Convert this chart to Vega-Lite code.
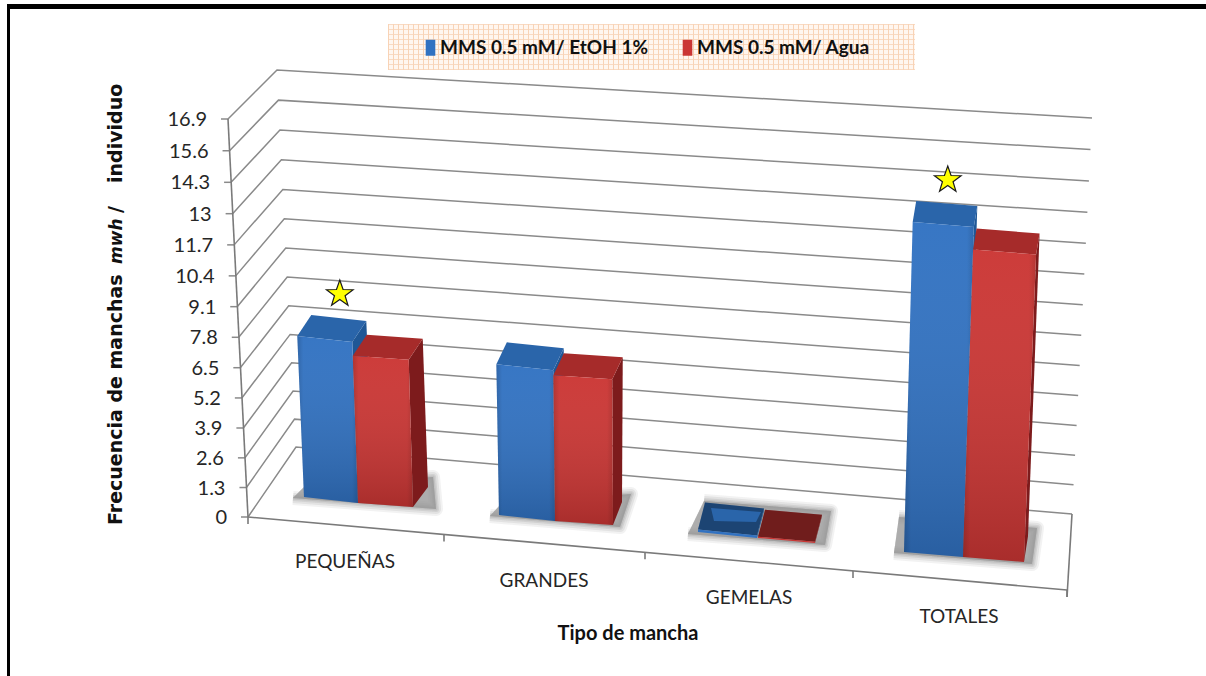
{
"$schema":"https://vega.github.io/schema/vega-lite/v6.json",
"width":1206,"height":676,"padding":0,"autosize":{"type":"none"},"background":"white",
"config":{"view":{"stroke":null}},
"datasets":{
"barras":[
{"tipo":"PEQUEÑAS","serie":"MMS 0.5 mM/ EtOH 1%","valor":7.0},
{"tipo":"PEQUEÑAS","serie":"MMS 0.5 mM/ Agua","valor":6.4},
{"tipo":"GRANDES","serie":"MMS 0.5 mM/ EtOH 1%","valor":6.1},
{"tipo":"GRANDES","serie":"MMS 0.5 mM/ Agua","valor":5.9},
{"tipo":"GEMELAS","serie":"MMS 0.5 mM/ EtOH 1%","valor":0.1},
{"tipo":"GEMELAS","serie":"MMS 0.5 mM/ Agua","valor":0.05},
{"tipo":"TOTALES","serie":"MMS 0.5 mM/ EtOH 1%","valor":13.2},
{"tipo":"TOTALES","serie":"MMS 0.5 mM/ Agua","valor":12.3}
],
"niveles":[{"nivel":0},{"nivel":1.3},{"nivel":2.6},{"nivel":3.9},{"nivel":5.2},{"nivel":6.5},{"nivel":7.8},{"nivel":9.1},{"nivel":10.4},{"nivel":11.7},{"nivel":13},{"nivel":14.3},{"nivel":15.6},{"nivel":16.9}],
"categorias":[{"tipo":"PEQUEÑAS"},{"tipo":"GRANDES"},{"tipo":"GEMELAS"},{"tipo":"TOTALES"}],
"cortes":[{"corte":0},{"corte":1},{"corte":2},{"corte":3},{"corte":4}],
"marco":[{"borde":"izquierdo"},{"borde":"frontal"},{"borde":"derecho"}],
"titulos":[{"texto":"Frecuencia de manchas","estilo":"normal"},{"texto":"mwh","estilo":"italic"},{"texto":"/","estilo":"normal"},{"texto":"individuo","estilo":"normal"}]
},
"data":{"name":"niveles"},
"encoding":{
"x":{"field":"px","type":"quantitative","scale":{"domain":[0,1206],"nice":false,"zero":false},"axis":null},
"y":{"field":"py","type":"quantitative","scale":{"domain":[0,676],"reverse":true,"nice":false,"zero":false},"axis":null}
},
"layer":[
{"data":{"values":[{"lado":"caja"}]},
"transform":[{"calculate":"651.5","as":"px"},{"calculate":"47","as":"py"}],
"layer":[
{"mark":{"type":"point","shape":"M-263.5 -23 H263.5 V23 H-263.5 Z","size":4,"filled":true,"fill":"#fff6ef","opacity":1}},
{"transform":[{"calculate":"388","as":"px"},{"calculate":"915","as":"px2"}],
"mark":{"type":"rule","stroke":"#f8d3b6","strokeWidth":46,"strokeDash":[1,4]},"encoding":{"x2":{"field":"px2"}}},
{"transform":[{"calculate":"24","as":"py"},{"calculate":"70","as":"py2"}],
"mark":{"type":"rule","stroke":"#f8d3b6","strokeWidth":527,"strokeDash":[1,4],"opacity":0.8},"encoding":{"y2":{"field":"py2"}}}
]},
{"transform":[
{"calculate":"datum.nivel/16.9","as":"t"},
{"calculate":"16*datum.t*(1-datum.t)","as":"curva"},
{"fold":["c0","c1","c2"],"as":["esquina","vacio"]},
{"calculate":"{c0:248-20*datum.t,c1:296-19*datum.t,c2:1072+20*datum.t}[datum.esquina]","as":"px"},
{"calculate":"{c0:517-398*datum.t,c1:447-377*datum.t,c2:514-396*datum.t}[datum.esquina]+datum.curva","as":"py"}
],
"mark":{"type":"line","stroke":"#8a8a8a","strokeWidth":1.5},
"encoding":{"detail":{"field":"nivel"},"order":{"field":"esquina"}}},
{"transform":[
{"calculate":"datum.nivel/16.9","as":"t"},
{"calculate":"248-20*datum.t","as":"px"},
{"calculate":"datum.px-7","as":"px2"},
{"calculate":"517-398*datum.t+16*datum.t*(1-datum.t)","as":"py"}
],
"layer":[
{"mark":{"type":"rule","stroke":"#8a8a8a","strokeWidth":1.5},"encoding":{"x2":{"field":"px2"}}},
{"transform":[{"calculate":"datum.px-21","as":"px"},{"calculate":"datum.py+1","as":"py"}],
"mark":{"type":"text","align":"right","baseline":"middle","font":"Lato","fontSize":20,"fill":"#262626"},
"encoding":{"text":{"field":"nivel","type":"nominal"}}}
]},
{"data":{"name":"marco"},
"transform":[
{"calculate":"{izquierdo:248,frontal:248,derecho:1072}[datum.borde]","as":"px"},
{"calculate":"{izquierdo:517,frontal:517,derecho:514}[datum.borde]","as":"py"},
{"calculate":"{izquierdo:228,frontal:1067,derecho:1067}[datum.borde]","as":"px2"},
{"calculate":"{izquierdo:119,frontal:590,derecho:597}[datum.borde]","as":"py2"}
],
"mark":{"type":"rule","stroke":"#7a7a7a","strokeWidth":1.6},
"encoding":{"x2":{"field":"px2"},"y2":{"field":"py2"}}},
{"data":{"name":"cortes"},
"transform":[
{"calculate":"[248,444,645,853,1067][datum.corte]","as":"px"},
{"calculate":"517+(datum.px-248)*0.0891","as":"py"},
{"calculate":"datum.py+7","as":"py2"}
],
"mark":{"type":"rule","stroke":"#7a7a7a","strokeWidth":1.6},
"encoding":{"y2":{"field":"py2"}}},
{"data":{"name":"categorias"},
"transform":[
{"fold":["c0","c1","c2","c3"],"as":["esquina","vacio"]},
{"calculate":"{PEQUEÑAS:{c0:304,c1:433,c2:436,c3:293},GRANDES:{c0:501,c1:631,c2:620,c3:490},GEMELAS:{c0:704,c1:831,c2:825,c3:688},TOTALES:{c0:899,c1:1037,c2:1032,c3:894}}[datum.tipo][datum.esquina]","as":"px"},
{"calculate":"{PEQUEÑAS:{c0:487,c1:477,c2:509,c3:498},GRANDES:{c0:504,c1:494,c2:527,c3:516},GEMELAS:{c0:501,c1:511,c2:545,c3:534},TOTALES:{c0:517,c1:528,c2:564,c3:553}}[datum.tipo][datum.esquina]","as":"py"}
],
"encoding":{"detail":{"field":"tipo"},"order":{"field":"esquina"}},
"layer":[
{"mark":{"type":"line","fill":"#969696","stroke":"#969696","strokeJoin":"round","strokeWidth":14,"fillOpacity":0.3,"strokeOpacity":0.12}},
{"mark":{"type":"line","fill":"#969696","stroke":"#969696","strokeJoin":"round","strokeWidth":10,"fillOpacity":0.3,"strokeOpacity":0.17}},
{"mark":{"type":"line","fill":"#969696","stroke":"#969696","strokeJoin":"round","strokeWidth":6,"fillOpacity":0.3,"strokeOpacity":0.22}},
{"mark":{"type":"line","fill":"#969696","stroke":"#969696","strokeJoin":"round","strokeWidth":3,"fillOpacity":0.3,"strokeOpacity":0.28}}
]},
{"data":{"name":"barras"},
"transform":[
{"calculate":"datum.tipo+(datum.serie=='MMS 0.5 mM/ Agua'?'_A':'_E')","as":"clave"},
{"calculate":"{PEQUEÑAS_E:304,PEQUEÑAS_A:358,GRANDES_E:499,GRANDES_A:555,GEMELAS_E:698,GEMELAS_A:758,TOTALES_E:904,TOTALES_A:963}[datum.clave]","as":"xi"},
{"calculate":"{PEQUEÑAS_E:358,PEQUEÑAS_A:413,GRANDES_E:555,GRANDES_A:613,GEMELAS_E:757,GEMELAS_A:815,TOTALES_E:963,TOTALES_A:1024}[datum.clave]","as":"xd"},
{"calculate":"{PEQUEÑAS_E:497,PEQUEÑAS_A:503,GRANDES_E:515,GRANDES_A:521,GEMELAS_E:532,GEMELAS_A:538,TOTALES_E:552,TOTALES_A:557}[datum.clave]","as":"yi"},
{"calculate":"{PEQUEÑAS_E:503,PEQUEÑAS_A:507,GRANDES_E:521,GRANDES_A:525,GEMELAS_E:538,GEMELAS_A:543,TOTALES_E:557,TOTALES_A:562}[datum.clave]","as":"yd"},
{"calculate":"{PEQUEÑAS:23,GRANDES:24.7,GEMELAS:25,TOTALES:25}[datum.tipo]","as":"escala"},
{"calculate":"{PEQUEÑAS:14,GRANDES:10.5,GEMELAS:7,TOTALES:3.5}[datum.tipo]","as":"dx"},
{"calculate":"{PEQUEÑAS:-21,GRANDES:-22,GEMELAS:-27,TOTALES:-21}[datum.tipo]","as":"dy"},
{"calculate":"{PEQUEÑAS:15,GRANDES:9,GEMELAS:7,TOTALES:4}[datum.tipo]","as":"dxb"},
{"calculate":"{PEQUEÑAS:-20,GRANDES:-23,GEMELAS:-27,TOTALES:-26}[datum.tipo]","as":"dyb"},
{"calculate":"datum.xi+datum.valor*(datum.xi-660)*0.0027","as":"xsi"},
{"calculate":"datum.xd+datum.valor*(datum.xd-660)*0.0027","as":"xsd"},
{"calculate":"datum.yi-datum.valor*datum.escala","as":"ysi"},
{"calculate":"datum.yd-datum.valor*datum.escala","as":"ysd"},
{"fold":["c0","c1","c2","c3"],"as":["esquina","vacio"]}
],
"encoding":{"detail":{"field":"clave"},"order":{"field":"esquina"}},
"layer":[
{"transform":[
{"calculate":"{c0:datum.xsd,c1:datum.xsd+datum.dx,c2:datum.xd+datum.dxb,c3:datum.xd}[datum.esquina]","as":"px"},
{"calculate":"{c0:datum.ysd,c1:datum.ysd+datum.dy,c2:datum.yd+datum.dyb,c3:datum.yd}[datum.esquina]","as":"py"}],
"mark":{"type":"line","filled":true},
"encoding":{"color":{"field":"serie","type":"nominal","legend":null,"scale":{"domain":["MMS 0.5 mM/ EtOH 1%","MMS 0.5 mM/ Agua"],"range":["#1f5796","#7d1b1c"]}}}},
{"transform":[
{"calculate":"{c0:datum.xsi,c1:datum.xsi+datum.dx,c2:datum.xsd+datum.dx,c3:datum.xsd}[datum.esquina]","as":"px"},
{"calculate":"{c0:datum.ysi,c1:datum.ysi+datum.dy,c2:datum.ysd+datum.dy,c3:datum.ysd}[datum.esquina]","as":"py"}],
"layer":[
{"mark":{"type":"line","filled":true},
"encoding":{"color":{"field":"serie","type":"nominal","legend":null,"scale":{"domain":["MMS 0.5 mM/ EtOH 1%","MMS 0.5 mM/ Agua"],"range":["#2a65aa","#a62b2a"]}}}},
{"transform":[{"filter":"datum.tipo=='GEMELAS'"}],"mark":{"type":"line","fill":"black","fillOpacity":0.32,"stroke":"transparent"}}
]},
{"transform":[
{"calculate":"{c0:datum.xsi,c1:datum.xsd,c2:datum.xd,c3:datum.xi}[datum.esquina]","as":"px"},
{"calculate":"{c0:datum.ysi,c1:datum.ysd,c2:datum.yd,c3:datum.yi}[datum.esquina]","as":"py"}],
"layer":[
{"mark":{"type":"line","filled":true},
"encoding":{"color":{"field":"serie","type":"nominal",
"scale":{"domain":["MMS 0.5 mM/ EtOH 1%","MMS 0.5 mM/ Agua"],"range":["#3172c2","#cb3634"]},
"legend":{"title":null,"orient":"none","legendX":421,"legendY":38,"direction":"horizontal","columns":2,"columnPadding":29,"symbolType":"M-0.6 -1 H0.6 V1 H-0.6 Z","symbolSize":256,"symbolOpacity":1,"labelFont":"Lato","labelFontWeight":"bold","labelFontSize":19,"labelColor":"#111111","labelOffset":0,"labelLimit":260}}}},
{"transform":[{"filter":"datum.tipo!='GEMELAS'"}],
"mark":{"type":"line","stroke":"transparent","fill":{"gradient":"linear","x1":0,"y1":0,"x2":0,"y2":1,"stops":[{"offset":0,"color":"rgba(255,255,255,0.03)"},{"offset":1,"color":"rgba(0,0,0,0.17)"}]}}},
{"transform":[{"filter":"datum.tipo!='GEMELAS'"}],
"mark":{"type":"line","stroke":"transparent","fill":{"gradient":"linear","x1":0,"y1":0,"x2":1,"y2":0,"stops":[{"offset":0,"color":"rgba(0,0,0,0.14)"},{"offset":0.1,"color":"rgba(0,0,0,0)"},{"offset":0.9,"color":"rgba(0,0,0,0)"},{"offset":1,"color":"rgba(0,0,0,0.12)"}]}}}
]},
{"transform":[
{"filter":"datum.clave=='GEMELAS_E'"},
{"calculate":"{c0:711,c1:761,c2:756,c3:714}[datum.esquina]","as":"px"},
{"calculate":"{c0:508,c1:512,c2:522,c3:521}[datum.esquina]","as":"py"}],
"mark":{"type":"line","fill":"#2a65aa","stroke":"transparent"}},
{"transform":[
{"filter":"datum.esquina=='c0' && (datum.clave=='PEQUEÑAS_E' || datum.clave=='TOTALES_E')"},
{"calculate":"(datum.xsi+datum.xsd)/2+datum.dx+1","as":"px"},
{"calculate":"datum.ysi-42","as":"py"}],
"mark":{"type":"point","shape":"M0 -14 L3.3 -4.5 L13.3 -4.3 L5.3 1.7 L8.2 11.3 L0 5.6 L-8.2 11.3 L-5.3 1.7 L-13.3 -4.3 L-3.3 -4.5 Z","size":4,"filled":true,"fill":"#ffff00","stroke":"#1a1a1a","strokeWidth":1.2,"opacity":1}}
],
"resolve":{"scale":{"color":"independent"}}},
{"data":{"name":"categorias"},
"transform":[
{"calculate":"{PEQUEÑAS:345,GRANDES:544,GEMELAS:749,TOTALES:959}[datum.tipo]","as":"px"},
{"calculate":"{PEQUEÑAS:562,GRANDES:581,GEMELAS:598,TOTALES:617}[datum.tipo]","as":"py"}
],
"mark":{"type":"text","align":"center","baseline":"middle","font":"Lato","fontSize":19,"fill":"#262626"},
"encoding":{"text":{"field":"tipo","type":"nominal"}}},
{"data":{"values":[{"texto":"Tipo de mancha"}]},
"transform":[{"calculate":"628","as":"px"},{"calculate":"634","as":"py"}],
"mark":{"type":"text","align":"center","baseline":"middle","font":"Lato","fontWeight":"bold","fontSize":20,"fill":"#111111"},
"encoding":{"text":{"field":"texto","type":"nominal"}}},
{"data":{"name":"titulos"},
"transform":[
{"calculate":"122","as":"px"},
{"calculate":"{'Frecuencia de manchas':525,'mwh':264,'/':213,'individuo':183}[datum.texto]","as":"py"}
],
"layer":[
{"transform":[{"filter":"datum.estilo=='normal'"}],
"mark":{"type":"text","angle":270,"align":"left","baseline":"alphabetic","font":"DejaVu Sans","fontWeight":"bold","fontSize":19,"fill":"#111111"},
"encoding":{"text":{"field":"texto","type":"nominal"}}},
{"transform":[{"filter":"datum.estilo=='italic'"}],
"mark":{"type":"text","angle":270,"align":"left","baseline":"alphabetic","font":"DejaVu Sans","fontWeight":"bold","fontStyle":"italic","fontSize":17,"fill":"#111111"},
"encoding":{"text":{"field":"texto","type":"nominal"}}}
]},
{"data":{"values":[{"lado":"superior"},{"lado":"lateral"}]},
"transform":[
{"calculate":"{superior:7,lateral:8.5}[datum.lado]","as":"px"},
{"calculate":"{superior:1206,lateral:8.5}[datum.lado]","as":"px2"},
{"calculate":"{superior:6.5,lateral:4}[datum.lado]","as":"py"},
{"calculate":"{superior:6.5,lateral:676}[datum.lado]","as":"py2"}
],
"layer":[
{"transform":[{"filter":"datum.lado=='superior'"}],"mark":{"type":"rule","stroke":"black","strokeWidth":5},"encoding":{"x2":{"field":"px2"}}},
{"transform":[{"filter":"datum.lado=='lateral'"}],"mark":{"type":"rule","stroke":"black","strokeWidth":3},"encoding":{"y2":{"field":"py2"}}}
]}
],
"resolve":{"scale":{"color":"independent"}}
}
